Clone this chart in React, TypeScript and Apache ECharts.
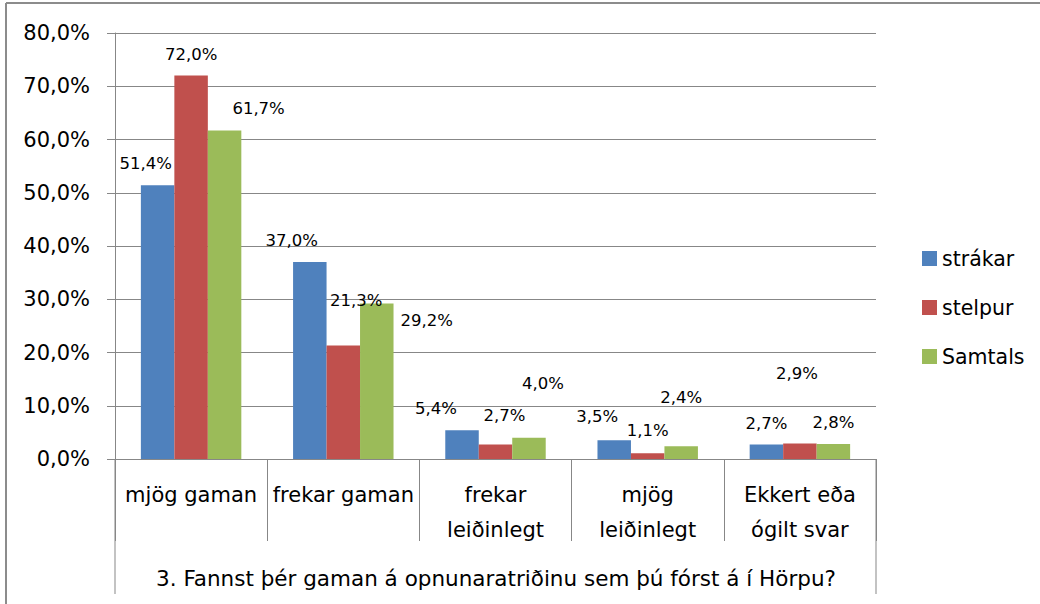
import React, { useEffect, useRef } from "react";
import * as echarts from "echarts";

const categories = ["mjög gaman", "frekar gaman", "frekar\nleiðinlegt", "mjög\nleiðinlegt", "Ekkert eða\nógilt svar"];
const seriesNames = ["strákar", "stelpur", "Samtals"];
const strakar = [51.4, 37.0, 5.4, 3.5, 2.7];
const stelpur = [72.0, 21.3, 2.7, 1.1, 2.9];
const samtals = [61.7, 29.2, 4.0, 2.4, 2.8];
const axisTitle = "3. Fannst þér gaman á opnunaratriðinu sem þú fórst á í Hörpu?";

// label placement nudges (style, not data)
const labelOffsets: number[][][] = [
  [[-12, 0], [-18, 0], [-26, 0], [-17, -2], [0, 0]],
  [[0, 0], [13, -24], [9, -8], [0, -1], [-3, -49]],
  [[34, 0], [50, 38], [14, -33], [0, -27], [0, 0]],
];

const colors = ["#4F81BD", "#C0504D", "#9BBB59"];
const FONT = "DejaVu Sans";
const GRID = "#878787";

const fmt = (v: number) => v.toFixed(1).replace(".", ",") + "%";

export default function App() {
  const ref = useRef<HTMLDivElement>(null);
  useEffect(() => {
    document.body.style.margin = "0";
    const chart = echarts.init(ref.current!, null, { renderer: "svg" });
    const all = [strakar, stelpur, samtals];
    chart.setOption({
      animation: false,
      textStyle: { fontFamily: FONT },
      color: colors,
      grid: { left: 115, right: 164, top: 33, bottom: 145, containLabel: false },
      legend: {
        orient: "vertical",
        left: 917,
        top: 243,
        itemWidth: 15,
        itemHeight: 15,
        itemGap: 28,
        icon: "rect",
        textStyle: { fontSize: 20.5, color: "#000", fontFamily: FONT, lineHeight: 20 },
        data: seriesNames,
      },
      xAxis: {
        type: "category",
        data: categories,
        axisLine: { show: true, lineStyle: { color: GRID, width: 1 } },
        axisTick: { show: true, length: 82, interval: 0, lineStyle: { color: GRID } },
        axisLabel: {
          interval: 0,
          fontSize: 21,
          lineHeight: 35,
          color: "#000",
          margin: 18,
          fontFamily: FONT,
        },
      },
      yAxis: {
        type: "value",
        min: 0,
        max: 80,
        interval: 10,
        axisLine: { show: true, lineStyle: { color: GRID } },
        axisTick: { show: true, length: 8, lineStyle: { color: GRID } },
        splitLine: { show: true, lineStyle: { color: GRID, width: 1 } },
        axisLabel: {
          fontSize: 21,
          color: "#000",
          margin: 25,
          fontFamily: FONT,
          formatter: (v: number) => fmt(v),
        },
      },
      series: all.map((arr, si) => ({
        name: seriesNames[si],
        type: "bar",
        barGap: "0%",
        barCategoryGap: "34%",
        itemStyle: { color: colors[si] },
        label: {
          show: true,
          position: "top",
          distance: 13,
          fontSize: 16.5,
          color: "#000",
          fontFamily: FONT,
          formatter: (p: any) => fmt(p.value),
        },
        data: arr.map((v, i) => ({ value: v, label: { offset: labelOffsets[si][i] } })),
      })),
      graphic: [
        { type: "line", shape: { x1: 6, y1: 3, x2: 1040, y2: 3 }, style: { stroke: "#8c8c8c", lineWidth: 2 } },
        { type: "line", shape: { x1: 6, y1: 3, x2: 6, y2: 604 }, style: { stroke: "#8c8c8c", lineWidth: 2 } },
        { type: "line", shape: { x1: 115, y1: 459, x2: 115, y2: 594 }, style: { stroke: GRID, lineWidth: 1 } },
        { type: "line", shape: { x1: 876, y1: 459, x2: 876, y2: 594 }, style: { stroke: GRID, lineWidth: 1 } },
        {
          type: "text",
          x: 496,
          y: 578,
          style: {
            text: axisTitle,
            fontSize: 21.5,
            fontFamily: FONT,
            fill: "#000",
            align: "center",
            verticalAlign: "middle",
          },
        },
      ],
    });
    return () => chart.dispose();
  }, []);
  return <div ref={ref} style={{ width: 1040, height: 604 }} />;
}
